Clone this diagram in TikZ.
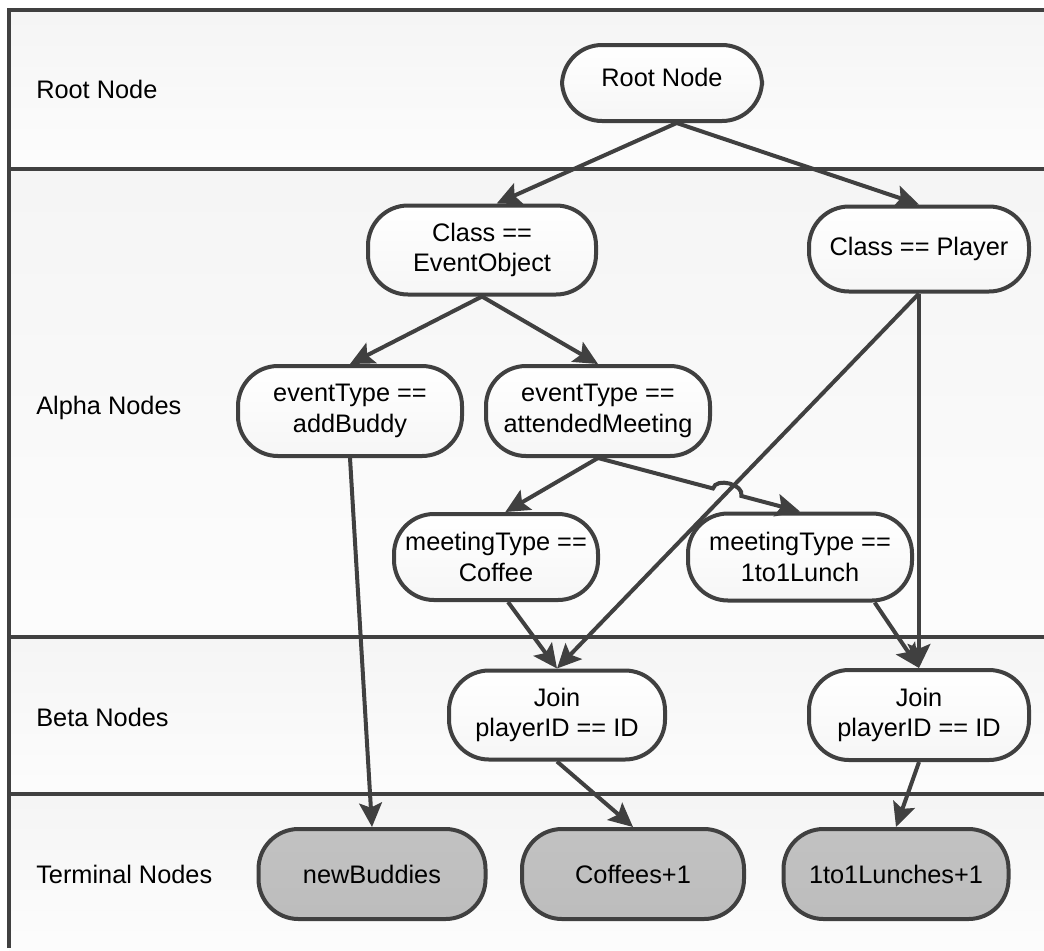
\documentclass[tikz,border=0pt]{standalone}
\usepackage{fontspec}
\setmainfont{Liberation Sans}
\usetikzlibrary{arrows.meta,calc,intersections}
\definecolor{ink}{RGB}{64,64,64}
\begin{document}
\begin{tikzpicture}[x=0.75pt,y=-0.75pt,
  every node/.style={font=\fontsize{19}{23}\selectfont, inner sep=0pt},
  rule/.style={draw=ink, line width=3pt},
  band/.style={top color=gray!8, bottom color=gray!2, draw=none},
  sz/.style 2 args={minimum width=#1*0.75pt, minimum height=#2*0.75pt},
  nodebox/.style={draw=ink, line width=3pt, rounded corners=30pt, align=center,
                  top color=white, bottom color=gray!7},
  termbox/.style={nodebox, top color=gray!48, bottom color=gray!52},
  conn/.style={draw=ink, line width=3pt,
               -{Stealth[length=18pt, width=17pt, inset=3.5pt]}},
  lane/.style={anchor=base west}
]
\useasboundingbox (0,0) rectangle (1044,950);

% swim-lane backgrounds
\fill[band] (9,10)  rectangle (1044,169);
\fill[band] (9,169) rectangle (1044,637);
\fill[band] (9,637) rectangle (1044,794);
\fill[band] (9,794) rectangle (1044,950);

% lane frame
\draw[rule] (9,948) -- (9,10) -- (1044,10);
\draw[rule] (9,169) -- (1044,169);
\draw[rule] (9,637) -- (1044,637);
\draw[rule] (9,794) -- (1044,794);

% lane titles
\node[lane] (lroot)  at (36,98)  {Root Node};
\node[lane] (lalpha) at (36,414) {Alpha Nodes};
\node[lane] (lbeta)  at (36,726) {Beta Nodes};
\node[lane] (lterm)  at (36,883) {Terminal Nodes};

% network nodes
\node[nodebox, sz={200}{76}, text depth=9pt] (root) at (662,83) {Root Node};
\node[nodebox, sz={228}{89}] (eo)     at (482,250) {Class ==\\EventObject};
\node[nodebox, sz={220}{85}] (player) at (919,249) {Class == Player};
\node[nodebox, sz={224}{90}] (ab)     at (350,411) {eventType ==\\addBuddy};
\node[nodebox, sz={224}{90}] (am)     at (598,411) {eventType ==\\attendedMeeting};
\node[nodebox, sz={204}{86}] (co)     at (496,557) {meetingType ==\\Coffee};
\node[nodebox, sz={224}{87}] (lunch)  at (800,557) {meetingType ==\\1to1Lunch};
\node[nodebox, sz={216}{89}] (joinL)  at (557,715) {Join\\playerID == ID};
\node[nodebox, sz={220}{90}] (joinR)  at (919,715) {Join\\playerID == ID};
\node[termbox, sz={227}{90}] (nb)     at (372,874) {newBuddies};
\node[termbox, sz={222}{90}] (cf)     at (633,874) {Coffees+1};
\node[termbox, sz={225}{90}] (lt)     at (896,874) {1to1Lunches+1};

% connectors
\draw[conn] ([xshift=11pt]root.south) -- ([xshift=11pt]eo.north);
\draw[conn] ([xshift=11pt]root.south) -- (player.north);
\draw[conn] (eo.south) -- (ab.north);
\draw[conn] (eo.south) -- (am.north);
\draw[conn] (player.south) -- (joinL.north);
\draw[conn] (player.south) -- (joinR.north);
\draw[conn] (ab.south) -- (nb.north);
\draw[conn] (am.south) -- ([xshift=7pt]co.north);
\draw[conn] ([xshift=9pt]co.south) -- (joinL.north);
\draw[conn] ([xshift=56pt]lunch.south) -- (joinR.north);
\draw[conn] (joinL.south) -- (cf.north);
\draw[conn] (joinR.south) -- (lt.north);

% attendedMeeting -> 1to1Lunch, hopping over the Player -> Join line
\path[name path=pj] (player.south) -- (joinL.north);
\path[name path=pl] (am.south) -- (lunch.north);
\path[name intersections={of=pj and pl, by=X}];
\coordinate (hA) at ($(X)!11pt!(am.south)$);
\coordinate (hB) at ($(X)!11pt!(lunch.north)$);
\draw[conn] (am.south) -- (hA)
  .. controls ($(hA)!9pt!90:(X)$) and ($(hB)!9pt!-90:(X)$) .. (hB)
  -- (lunch.north);
\end{tikzpicture}
\end{document}
